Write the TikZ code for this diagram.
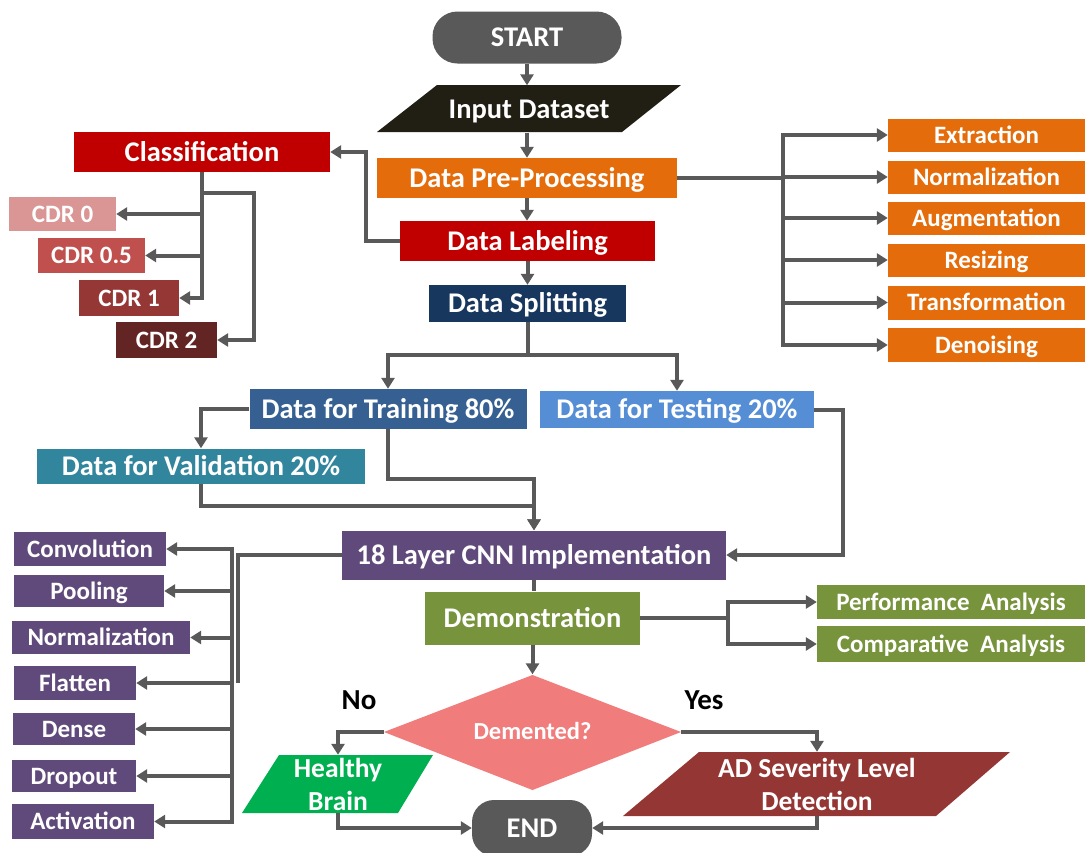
\documentclass[tikz,border=0pt]{standalone}
\usepackage{fontspec}
\setmainfont{Carlito}
\usetikzlibrary{arrows.meta}
\definecolor{cgray}{HTML}{595959}
\definecolor{cblack}{HTML}{211E14}
\definecolor{corange}{HTML}{E46C0A}
\definecolor{cred}{HTML}{C00000}
\definecolor{ccdra}{HTML}{D99694}
\definecolor{ccdrb}{HTML}{C0504D}
\definecolor{ccdrc}{HTML}{953735}
\definecolor{ccdrd}{HTML}{632523}
\definecolor{cnavy}{HTML}{17375E}
\definecolor{ctrain}{HTML}{366092}
\definecolor{ctest}{HTML}{558ED5}
\definecolor{cval}{HTML}{31859C}
\definecolor{cpurple}{HTML}{604A7B}
\definecolor{cgreen}{HTML}{77933C}
\definecolor{cpink}{HTML}{F07C7C}
\definecolor{chealthy}{HTML}{00B050}
\definecolor{cad}{HTML}{943634}
\begin{document}
\begin{tikzpicture}[x=1pt,y=-1pt,
  box/.style={rectangle, inner sep=0pt, text=white, align=center, font=\bfseries\fontsize{28.5}{32}\selectfont, text height=18.5pt, text depth=0pt},
  mbox/.style={box, font=\bfseries\fontsize{25}{29}\selectfont, text height=16.2pt, text depth=0pt},
  ghost/.style={rectangle, inner sep=0pt, text=white, align=center},
  conn/.style={draw=cgray, line width=4pt, -{Triangle[length=11pt,width=13pt]}},
  wire/.style={draw=cgray, line width=4pt},
  buswire/.style={draw=cgray, line width=4pt, line cap=rect}]
\useasboundingbox (0,0) rectangle (1085,852);
\fill[white] (0,0) rectangle (1085,852);

% main column
\node[box, fill=cgray, rounded corners=25pt, minimum width=189pt, minimum height=52pt] (start) at (527,37.5) {START};
\fill[cblack] (437,85) -- (681,85) -- (622,132) -- (377,132) -- cycle;
\node[ghost, font=\bfseries\fontsize{28.5}{32}\selectfont, text height=18.5pt, text depth=0pt, minimum width=200pt, minimum height=47pt] (input) at (529,109) {Input Dataset};
\node[box, fill=corange, minimum width=300pt, minimum height=40pt] (pre) at (527,178) {Data Pre-Processing};
\node[box, fill=cred, minimum width=255pt, minimum height=40pt] (lab) at (527.5,241) {Data Labeling};
\node[box, fill=cnavy, minimum width=197pt, minimum height=37pt] (split) at (527.5,303.5) {Data Splitting};

% classification
\node[box, fill=cred, minimum width=256pt, minimum height=40pt] (cls) at (202,152) {Classification};
\node[mbox, fill=ccdra, minimum width=107pt, minimum height=34pt] (cdra) at (62.5,214) {CDR 0};
\node[mbox, fill=ccdrb, minimum width=107pt, minimum height=35pt] (cdrb) at (91.5,255.5) {CDR 0.5};
\node[mbox, fill=ccdrc, minimum width=100pt, minimum height=36pt] (cdrc) at (129,298) {CDR 1};
\node[mbox, fill=ccdrd, minimum width=101pt, minimum height=36pt] (cdrd) at (166.5,340) {CDR 2};

% preprocessing list
\node[mbox, fill=corange, minimum width=197pt, minimum height=33pt] (ext) at (986.5,135) {Extraction};
\node[mbox, fill=corange, minimum width=197pt, minimum height=33pt] (nrm) at (986.5,177) {Normalization};
\node[mbox, fill=corange, minimum width=197pt, minimum height=33pt] (aug) at (986.5,218) {Augmentation};
\node[mbox, fill=corange, minimum width=197pt, minimum height=33pt] (res) at (986.5,260) {Resizing};
\node[mbox, fill=corange, minimum width=197pt, minimum height=34pt] (trf) at (986.5,302.5) {Transformation};
\node[mbox, fill=corange, minimum width=197pt, minimum height=34pt] (den) at (986.5,345) {Denoising};

% splitting
\node[box, fill=ctrain, minimum width=277pt, minimum height=40pt] (train) at (388,409) {Data for Training 80\%};
\node[box, fill=ctest, minimum width=274pt, minimum height=37pt] (test) at (677,409.5) {Data for Testing 20\%};
\node[box, fill=cval, minimum width=328pt, minimum height=35pt] (val) at (201,466) {Data for Validation 20\%};

% CNN
\node[box, fill=cpurple, minimum width=384pt, minimum height=49pt] (cnn) at (534,555) {18 Layer CNN Implementation};
\node[box, fill=cgreen, minimum width=215pt, minimum height=53pt] (demo) at (532.5,618) {Demonstration};
\node[mbox, fill=cgreen, minimum width=268pt, minimum height=34pt] (perf) at (951,602) {Performance~~Analysis};
\node[mbox, fill=cgreen, minimum width=268pt, minimum height=36pt] (comp) at (951,644) {Comparative~~Analysis};

\node[mbox, fill=cpurple, minimum width=152pt, minimum height=34pt] (conv) at (90,549) {Convolution};
\node[mbox, fill=cpurple, minimum width=150pt, minimum height=32pt] (pool) at (89,591) {Pooling};
\node[mbox, fill=cpurple, minimum width=178pt, minimum height=33pt] (nrmb) at (101,637.5) {Normalization};
\node[mbox, fill=cpurple, minimum width=122pt, minimum height=34pt] (flat) at (75,683) {Flatten};
\node[mbox, fill=cpurple, minimum width=122pt, minimum height=32pt] (dense) at (74,729) {Dense};
\node[mbox, fill=cpurple, minimum width=124pt, minimum height=32pt] (drop) at (74,776) {Dropout};
\node[mbox, fill=cpurple, minimum width=142pt, minimum height=35pt] (act) at (83,821.5) {Activation};

% decision
\fill[cpink] (384,732) -- (532.5,675) -- (681,732) -- (532.5,790) -- cycle;
\node[ghost, font=\bfseries\fontsize{24.5}{28}\selectfont, text height=15.8pt, text depth=0pt, minimum width=297pt, minimum height=115pt] (dia) at (532.5,732) {Demented?};
\node[font=\bfseries\fontsize{29}{33}\selectfont, text=black, inner sep=0pt] (no) at (359,700) {No};
\node[font=\bfseries\fontsize{29}{33}\selectfont, text=black, inner sep=0pt] (yes) at (704,700) {Yes};

\fill[chealthy] (279,755) -- (433,755) -- (398,813) -- (242,813) -- cycle;
\node[ghost, font=\bfseries\fontsize{27.5}{33}\selectfont, minimum width=120pt, minimum height=58pt] (healthy) at (338,784) {Healthy\\Brain};
\fill[cad] (699,752) -- (1010,752) -- (936,816) -- (623,816) -- cycle;
\node[ghost, font=\bfseries\fontsize{27.5}{33}\selectfont, minimum width=240pt, minimum height=64pt] (ad) at (817,784) {AD Severity Level\\Detection};

\node[box, fill=cgray, rounded corners=22pt, minimum width=120pt, minimum height=56pt] (end) at (532,828) {END};

% connectors main column
\draw[conn] (start.south) -- (start.south |- input.north);
\draw[conn] (pre.north |- input.south) -- (pre.north);
\draw[conn] (pre.south) -- (pre.south |- lab.north);
\draw[conn] (lab.south) -- (lab.south |- split.north);

% labeling -> classification
\draw[conn] (lab.west) -- ++(-34,0) |- (cls.east);
\draw[conn] (cls.south) |- (cdrc.east);
\draw[conn] (cls.south |- cdra.east) -- (cdra.east);
\draw[conn] (cls.south |- cdrb.east) -- (cdrb.east);
\draw[conn] ([yshift=-21pt]cls.south) -- ++(52,0) |- (cdrd.east);

% preprocessing bus
\coordinate (pbus) at (783,178);
\draw[wire] (pre.east) -- (pbus);
\draw[buswire] (pbus |- ext.west) -- (pbus |- den.west);
\foreach \n in {ext,nrm,aug,res,trf,den} { \draw[conn] (pbus |- \n.west) -- (\n.west); }

% splitting
\coordinate (sj) at (527.5,355);
\draw[wire] (split.south) -- (sj);
\draw[conn] (sj) -| (train.north);
\draw[conn] (sj) -| (test.north);
\draw[conn] (train.west) -| (val.north);
\draw[conn] (train.south) -- ++(0,50) -| (cnn.north);
\draw[conn] (val.south) -- ++(0,22.5) -| (cnn.north);
\draw[conn] (test.east) -- ++(29,0) |- (cnn.east);

% cnn layers bus
\coordinate (bus) at (232,0);
\coordinate (busb) at (238,0);
\draw[wire] (cnn.west) -| (busb |- flat.east);
\draw[buswire] (bus |- conv.east) -- (bus |- act.east);
\foreach \n in {conv,pool,nrmb,flat,dense,drop,act} { \draw[conn] (bus |- \n.east) -- (\n.east); }

% demonstration
\draw[wire] (cnn.south) -- (cnn.south |- demo.north);
\draw[conn] (demo.east) -- ++(88,0) |- (perf.west);
\draw[conn] (demo.east) -- ++(88,0) |- (comp.west);
\draw[conn] (demo.south) -- (demo.south |- dia.north);

% decision
\draw[conn] (dia.west) -| (healthy.north);
\draw[conn] (dia.east) -| (ad.north);
\draw[conn] (healthy.south) |- (end.west);
\draw[conn] (ad.south) |- (end.east);
\end{tikzpicture}
\end{document}
